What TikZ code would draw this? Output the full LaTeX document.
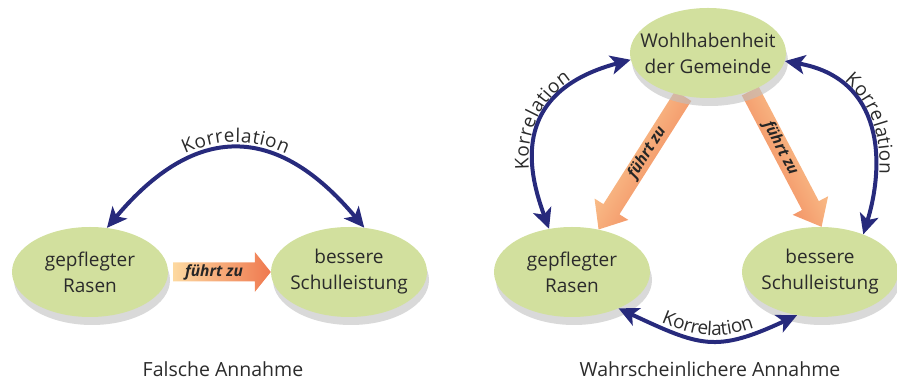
\documentclass[tikz,border=0pt]{standalone}
\usepackage{fontspec}
\setmainfont{Open Sans}
\usetikzlibrary{shapes.geometric,arrows.meta,calc,decorations.text,shadows,backgrounds}

\definecolor{gruen}{HTML}{D2E09E}
\definecolor{korrblau}{HTML}{272A7C}
\definecolor{pfeilhell}{HTML}{FDD9A0}
\definecolor{pfeildunkel}{HTML}{EF784F}
\definecolor{textgrau}{HTML}{2B2B2B}

\newcommand{\blasefont}{\fontsize{19}{26}\selectfont}
\newcommand{\korrfont}{\fontsize{19}{22}\selectfont}
\newcommand{\fuehrtfont}{\fontsize{15.5}{18}\selectfont\bfseries\itshape}
\newcommand{\titelfont}{\fontsize{19.5}{22}\selectfont}

% dicker Pfeil: Start, Ende, Kopflaenge, Winkel der Schattierung
\newcommand{\fuehrtpfeil}[4]{%
  \coordinate (kopf) at ($(#2)!#3!(#1)$);
  \shade[top color=pfeilhell, bottom color=pfeildunkel, shading angle=#4]
    ($(#1)!9.5pt!90:(#2)$) -- ($(kopf)!9.5pt!90:(#2)$) -- ($(kopf)!20pt!90:(#2)$) -- (#2)
    -- ($(kopf)!20pt!-90:(#2)$) -- ($(kopf)!9.5pt!-90:(#2)$) -- ($(#1)!9.5pt!-90:(#2)$) -- cycle;
  \path (#1) -- (kopf) node[midway, sloped, font=\fuehrtfont, text=black!85] {führt zu};
}

\begin{document}
\begin{tikzpicture}[x=1pt, y=1pt,
  blase/.style={ellipse, fill=gruen, minimum width=156pt, minimum height=90pt,
    inner xsep=-14pt, inner ysep=0pt, align=center, text=textgrau, font=\blasefont,
    drop shadow={shadow xshift=2pt, shadow yshift=-8pt, fill=black!25, opacity=.6}},
  korr/.style={draw=korrblau, line width=4pt, >={Stealth[length=20pt,width=19pt,inset=5pt]}, <->},
  korrtext/.style={decorate, decoration={text along path,
    text={|\korrfont\color{textgrau}|Korrelation}, text align=center, raise=#1}},
  korrtext/.default=7pt]
\useasboundingbox (0,0) rectangle (897,382);

% Falsche Annahme
\node[blase] (rasenL) at (90,110) {gepflegter\\Rasen};
\node[blase] (schulL) at (349,110) {bessere\\Schulleistung};
\draw[korr] (rasenL.69) to[out=50, in=130, distance=137pt] (schulL.71);
\path[korrtext] (rasenL.69) to[out=50, in=130, distance=137pt] (schulL.71);
\coordinate (pfeilL) at ($(rasenL.east)+(5,0)$);
\begin{scope}[on background layer]
  \fuehrtpfeil{pfeilL}{schulL.west}{16pt}{90}
\end{scope}
\node[font=\titelfont, text=textgrau, anchor=base] (falsch) at (223,5) {Falsche Annahme};

% Wahrscheinlichere Annahme
\node[blase] (wohl) at (708,329) {Wohlhabenheit\\der Gemeinde};
\node[blase] (rasenR) at (572,110) {gepflegter\\Rasen};
\node[blase] (schulR) at (820,110) {bessere\\Schulleistung};
\begin{scope}[on background layer]
  \fuehrtpfeil{wohl.240}{rasenR.58}{24pt}{60}
  \fuehrtpfeil{wohl.318}{schulR.88}{24pt}{-62}
\end{scope}
\draw[korr] (rasenR.118) to[out=110, in=195, out distance=54pt, in distance=130pt] (wohl.185);
\path[korrtext=5pt] (rasenR.118) to[out=110, in=195, out distance=54pt, in distance=130pt] (wohl.185);
\draw[korr] (wohl.-6) to[out=-10, in=73, out distance=100pt, in distance=75pt] (schulR.41);
\path[korrtext=5pt] (wohl.-6) to[out=-10, in=73, out distance=100pt, in distance=75pt] (schulR.41);
\draw[korr] (rasenR.-38) to[out=-25, in=205, distance=90pt] (schulR.242);
\path[korrtext=5pt] (rasenR.-38) to[out=-25, in=205, distance=90pt] (schulR.242);
\node[font=\titelfont, text=textgrau, anchor=base] (wahr) at (710,5) {Wahrscheinlichere Annahme};
\end{tikzpicture}
\end{document}
